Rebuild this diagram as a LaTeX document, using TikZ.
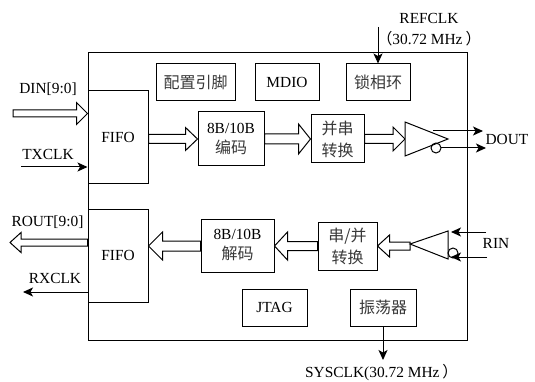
\documentclass[tikz,border=0pt]{standalone}
\usepackage{fontspec}
\setmainfont{Liberation Serif}
\newfontfamily\cjk{Noto Sans CJK SC}
\usetikzlibrary{arrows.meta,calc}
\definecolor{zhink}{gray}{0.22}
\tikzset{
  blk/.style={draw=black,line width=1pt,inner sep=0pt,align=center,font=\fontsize{15.4}{20}\selectfont},
  wide/.style={font=\fontsize{15.4}{22}\selectfont},
  lbl/.style={inner sep=0pt,font=\fontsize{15.4}{18}\selectfont},
  sig/.style={draw=black,line width=1pt,-{Stealth[length=10pt,width=9pt,inset=2.5pt]}},
  hollowarrow/.style={draw=black,line width=1pt,fill=white,line join=miter},
  gate/.style={draw=black,line width=1pt,fill=white,line join=miter}
}
% from, tip, y, half shaft, half head, signed head length
\newcommand{\hollowconn}[6]{%
  \path[hollowarrow] let \p1=(#1),\p2=(#2) in
    (\x1,#3-#4) -- ({\x2-(#6pt)},#3-#4) -- ({\x2-(#6pt)},#3-#5) -- (\x2,#3)
    -- ({\x2-(#6pt)},#3+#5) -- ({\x2-(#6pt)},#3+#4) -- (\x1,#3+#4) -- cycle;}
\newcommand{\zh}[1]{{\cjk\color{zhink}\fontsize{16}{20}\selectfont #1}}
\newcommand{\zhp}[1]{{\cjk\fontsize{15.4}{20}\selectfont #1}}
\begin{document}
\begin{tikzpicture}[x=1pt,y=-1pt]
\useasboundingbox (0,0) rectangle (535,382);
\node[blk,minimum width=379pt,minimum height=287pt] (chip) at (277.5,196.5) {};
\node[blk,minimum width=60pt,minimum height=93pt] (fifoa) at (118,137.5) {FIFO};
\node[blk,minimum width=79pt,minimum height=37pt] (cfg) at (195.5,82.5) {\zh{配置引脚}};
\node[blk,minimum width=64pt,minimum height=37pt] (mdio) at (287,82.5) {MDIO};
\node[blk,minimum width=64pt,minimum height=37pt] (pll) at (378,82.5) {\zh{锁相环}};
\node[blk,minimum width=66pt,minimum height=54pt] (enc) at (231,139) {8B/10B\\\zh{编码}};
\node[blk,wide,minimum width=53pt,minimum height=48pt] (ser) at (337.5,139) {\zh{并串}\\\zh{转换}};
\node[blk,minimum width=60pt,minimum height=93pt] (fifob) at (118,255.5) {FIFO};
\node[blk,minimum width=73pt,minimum height=53pt] (dec) at (237.5,245.5) {8B/10B\\\zh{解码}};
\node[blk,wide,minimum width=59pt,minimum height=48pt] (des) at (347.5,246) {\zh{串/并}\\\zh{转换}};
\node[blk,minimum width=65pt,minimum height=37pt] (jtag) at (274.5,307.5) {JTAG};
\node[blk,minimum width=66pt,minimum height=37pt] (osc) at (383,307.5) {\zh{振荡器}};
% free ends and gate corners
\coordinate (dinstart) at (13,113);
\coordinate (routtip) at (10,242.5);
\coordinate (txstart) at (21,167);
\coordinate (rxtip) at (23,292);
\coordinate (refstart) at (378,27);
\coordinate (systip) at (383,360);
\coordinate (drvbase) at (405,139);
\coordinate (rcvtip) at (410,244);
\coordinate (doutp) at (433,131);
\coordinate (doutpe) at (483,131);
\coordinate (doutn) at (441,148);
\coordinate (doutne) at (486,148);
\coordinate (rinp) at (486,232);
\coordinate (rinpe) at (451,232);
\coordinate (rinn) at (487,257);
\coordinate (rinne) at (451,257);
% hollow bus arrows
\hollowconn{dinstart}{fifoa.west|-dinstart}{113.5}{3.5}{11}{11}
\hollowconn{fifoa.east}{enc.west}{139}{4.5}{11.5}{12}
\hollowconn{enc.east}{ser.west}{139}{5}{15}{12}
\hollowconn{ser.east}{drvbase}{139}{4.5}{12}{12}
\hollowconn{rcvtip}{des.east}{246}{4}{11}{-12}
\hollowconn{des.west}{dec.east}{246}{4.5}{14}{-13}
\hollowconn{dec.west}{fifob.east}{246}{5}{14}{-14}
\hollowconn{fifob.west}{routtip}{242.5}{3.5}{10}{-11}
% gates
\draw[gate] (drvbase|-0,122) -- (448,139) -- (drvbase|-0,156) -- cycle;
\draw[gate] (rcvtip) -- (448,231) -- (448,259) -- cycle;
\draw[line width=1pt] (436,148) circle (5pt);
\draw[line width=1pt] (453,253) circle (5pt);
% thin signals
\draw[sig] (txstart) -- (fifoa.west|-txstart);
\draw[sig] (fifob.west|-rxtip) -- (rxtip);
\draw[sig] (refstart) -- (pll.north);
\draw[sig] (osc.south) -- (systip);
\draw[sig] (doutp) -- (doutpe);
\draw[sig] (doutn) -- (doutne);
\draw[sig] (rinp) -- (rinpe);
\draw[sig] (rinn) -- (rinne);
% labels
\node[lbl] (ldin) at (48,89) {DIN[9:0]};
\node[lbl] (ltx) at (48,154) {TXCLK};
\node[lbl] (lrout) at (47.5,222) {ROUT[9:0]};
\node[lbl] (lrx) at (55,278) {RXCLK};
\node[lbl] (lref) at (429,18) {REFCLK};
\node[lbl] (lfreq) at (429,39) {\zhp{（}30.72 MHz\hspace{3pt}\zhp{）}};
\node[lbl] (ldout) at (507,139) {DOUT};
\node[lbl] (lrin) at (496,243) {RIN};
\node[lbl] (lsys) at (381.5,373) {SYSCLK(30.72 MHz\hspace{3pt}\zhp{）}};
\end{tikzpicture}
\end{document}
